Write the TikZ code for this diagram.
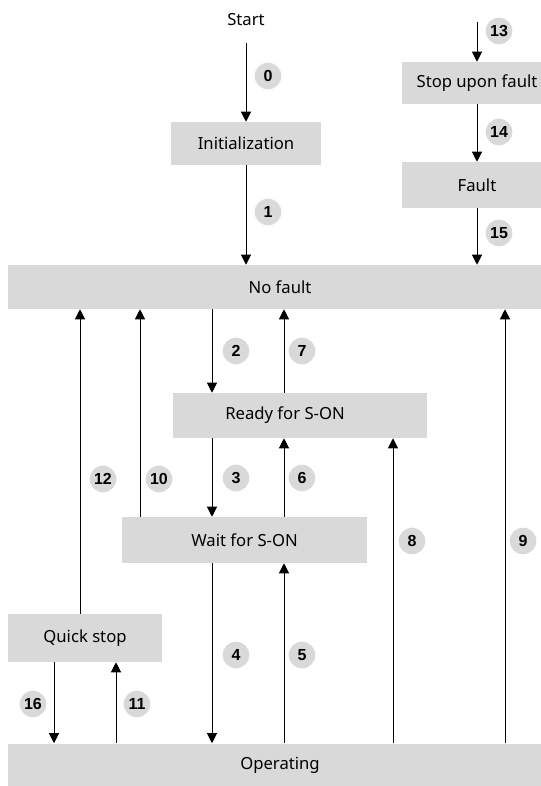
\documentclass[tikz,border=0pt]{standalone}
\usepackage{fontspec}
\setmainfont{Noto Sans}
\newfontfamily\numfont{Liberation Sans}
\usetikzlibrary{arrows.meta}
\definecolor{boxgray}{HTML}{D9D9D9}
\tikzset{
  state/.style={fill=boxgray,inner sep=0pt,font=\fontsize{12.5}{15}\selectfont},
  num/.style={circle,fill=boxgray,inner sep=0pt,minimum size=20pt,font=\numfont\fontsize{12}{14}\selectfont\bfseries},
  arr/.style={line width=0.75pt,-{Triangle[length=7.5pt,width=7.5pt]}}
}
\begin{document}
\begin{tikzpicture}[x=0.75pt,y=-0.75pt]
  \clip (0,0) rectangle (541,786);

  % states
  \node[font=\fontsize{12.5}{15}\selectfont] (start) at (246,20) {Start};
  \node[state,minimum width=112.5pt,minimum height=32.25pt] (init) at (246,143.5) {Initialization};
  \node[state,minimum width=112.5pt,minimum height=31.5pt] (stopfault) at (477,83) {Stop upon fault};
  \node[state,minimum width=112.5pt,minimum height=34.5pt] (fault) at (477,185) {Fault};
  \node[state,minimum width=408pt,minimum height=33pt] (nofault) at (280,287) {No fault};
  \node[state,minimum width=190.5pt,minimum height=33.75pt] (ready) at (300,415.5) {};
  \node[font=\fontsize{12.5}{15}\selectfont] (readytext) at (285,415.5) {Ready for S-ON};
  \node[state,minimum width=183.75pt,minimum height=34.5pt] (wait) at (244.5,540) {Wait for S-ON};
  \node[state,minimum width=115.5pt,minimum height=36pt] (quick) at (85,638) {Quick stop};
  \node[state,minimum width=408pt,minimum height=33pt] (operating) at (280,765.5) {Operating};

  % columns of the transitions
  \foreach \c/\x in {a/54,b/80,c/116,d/140,e/212,f/246,g/284,h/393,i/477,j/505}
    \coordinate (col\c) at (\x,0);
  \coordinate (top13) at (477,22);

  \draw[arr] ([yshift=-9pt]start.south) -- (init.north);
  \draw[arr] (top13) -- (stopfault.north);
  \foreach \s/\t/\c in {stopfault.south/fault.north/coli,
      fault.south/nofault.north/coli, init.south/nofault.north/colf,
      nofault.south/ready.north/cole, ready.north/nofault.south/colg,
      ready.south/wait.north/cole, wait.north/ready.south/colg,
      quick.north/nofault.south/colb, wait.north/nofault.south/cold,
      operating.north/ready.south/colh, operating.north/nofault.south/colj,
      wait.south/operating.north/cole, operating.north/wait.south/colg,
      quick.south/operating.north/cola, operating.north/quick.south/colc}
    \draw[arr] (\s -| \c) -- (\t -| \c);

  % transition numbers
  \foreach \n/\x/\y in {0/268/76,13/499/31,14/499/132,15/499/233,1/268/212,
      2/236/351,7/302/351,3/236/478,6/302/478,12/103/479,10/159/479,
      8/412/541,9/523/541,4/236/655,5/302/655,16/33/704,11/137/704}
    \node[num] (n\n) at (\x,\y) {\n};
\end{tikzpicture}
\end{document}
